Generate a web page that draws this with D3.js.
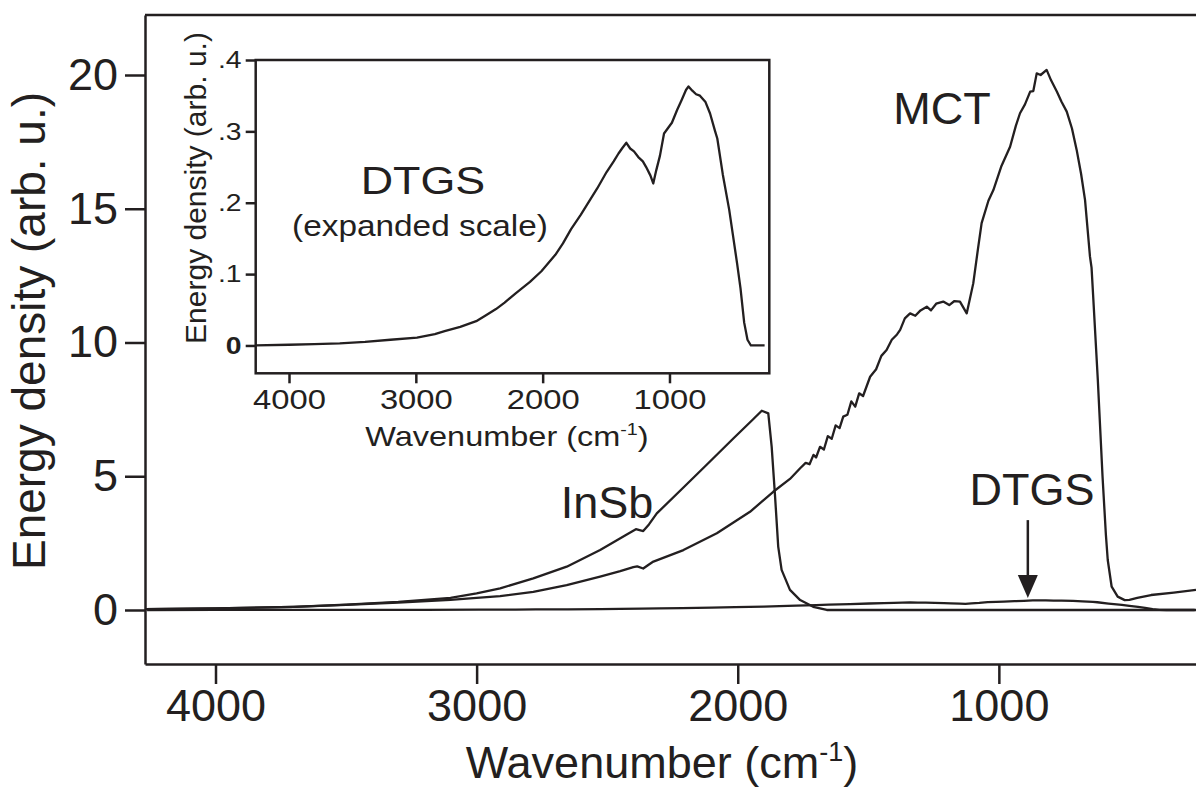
<!DOCTYPE html>
<html>
<head>
<meta charset="utf-8">
<script src="https://cdn.jsdelivr.net/npm/d3@7"></script>
<style>
  html, body { margin: 0; padding: 0; background: #fff; }
  svg { display: block; }
  text { font-family: "Liberation Sans", Arial, Helvetica, sans-serif; fill: #231f20; }
</style>
</head>
<body>
<svg id="chart" width="1196" height="787"></svg>
<script>
// ---------------- data ----------------
const xTicks = [4000, 3000, 2000, 1000];
const yTicks = [0, 5, 10, 15, 20];
const insetYTicks = [0, 0.1, 0.2, 0.3, 0.4];

// wavenumber (cm-1), energy density (arb. u.)
const mctWavenumber = [4270,4000,3700,3500,3300,3100,3000,2910,2783,2655,2527,2450,2400,2385,2362,2340,2323,2208,2080,1953,1864,1800,1761,1740,1725,1710,1700,1685,1670,1655,1640,1625,1610,1596,1580,1565,1550,1535,1520,1493,1470,1450,1430,1410,1390,1378,1360,1340,1320,1300,1276,1260,1240,1213,1190,1170,1149,1123,1098,1080,1066,1040,1021,990,957,935,919,900,880,868,855,840,817,800,778,760,740,720,702,685,670,651,645,638,621,603,590,583,568,545,518,500,470,417,330,245];
const mctValues = [0.03,0.06,0.12,0.19,0.28,0.38,0.45,0.52,0.68,0.93,1.25,1.45,1.6,1.63,1.55,1.7,1.81,2.24,2.87,3.67,4.42,4.9,5.3,5.5,5.45,5.8,5.7,6.1,6.0,6.5,6.4,6.9,6.8,7.23,7.3,7.8,7.6,8.1,8.0,8.72,9.0,9.5,9.72,10.1,10.3,10.47,10.9,11.09,11.0,11.2,11.34,11.2,11.45,11.53,11.4,11.55,11.53,11.09,12.21,13.5,14.46,15.3,15.7,16.6,17.32,18.1,18.57,18.9,19.38,19.4,20.06,20.0,20.19,19.8,19.38,19.0,18.63,18.0,17.2,16.3,15.33,13.21,12.8,11.59,8.6,5.0,2.8,1.87,0.87,0.5,0.37,0.38,0.45,0.56,0.65,0.75];

const insbWavenumber = [4270,4000,3700,3500,3300,3100,3000,2910,2783,2655,2527,2420,2390,2362,2340,2310,2208,2119,2017,1940,1908,1883,1870,1857,1845,1832,1800,1761,1711,1659,1000,245];
const insbValues = [0.03,0.06,0.12,0.2,0.3,0.45,0.62,0.81,1.18,1.62,2.24,2.85,3.02,2.95,3.2,3.61,4.58,5.43,6.41,7.14,7.45,7.35,6.1,4.24,2.37,1.5,0.75,0.37,0.12,0.0,0.0,0.0];

const dtgsWavenumber = [4262,4000,3800,3600,3400,3200,2991,2850,2773,2650,2524,2450,2368,2300,2213,2100,2010,1900,1840,1776,1700,1651,1570,1496,1440,1402,1370,1340,1310,1280,1246,1210,1184,1150,1128,1105,1075,1043,1010,981,940,904,870,850,820,790,760,716,680,640,623,580,529,500,467,440,411,385,358,300,250];
const dtgsValues = [0,0.001,0.002,0.003,0.005,0.008,0.011,0.016,0.02,0.026,0.034,0.042,0.051,0.06,0.073,0.089,0.104,0.127,0.143,0.163,0.183,0.197,0.22,0.243,0.258,0.269,0.277,0.284,0.276,0.272,0.264,0.258,0.25,0.238,0.227,0.245,0.266,0.297,0.305,0.312,0.33,0.344,0.358,0.363,0.357,0.352,0.35,0.341,0.325,0.3,0.29,0.24,0.19,0.155,0.115,0.08,0.032,0.008,0,0,0];

const zip = (xs, ys) => xs.map((v, i) => [v, ys[i]]);
const mct = zip(mctWavenumber, mctValues);
const insb = zip(insbWavenumber, insbValues);
const dtgs = zip(dtgsWavenumber, dtgsValues);

// ---------------- drawing ----------------
const ink = "#231f20";
const lineW = 2.3, frameW = 2.5;
const svg = d3.select("#chart");

// main plot
const M = { left: 145, right: 1196, top: 15, bottom: 664 };
const x = d3.scaleLinear().domain([4270, 245]).range([M.left, M.right]);
const y = d3.scaleLinear().domain([-2.019, 22.243]).range([M.bottom, M.top]);

svg.append("clipPath").attr("id", "mainClip").append("rect")
  .attr("x", M.left).attr("y", M.top).attr("width", M.right - M.left).attr("height", M.bottom - M.top);

const line = d3.line().x(d => x(d[0])).y(d => y(d[1]));
const gData = svg.append("g").attr("clip-path", "url(#mainClip)");
[dtgs, insb, mct].forEach(s => {
  gData.append("path").datum(s).attr("d", line)
    .attr("fill", "none").attr("stroke", ink).attr("stroke-width", lineW).attr("stroke-linejoin", "round");
});

// top frame line
svg.append("line").attr("x1", M.left).attr("x2", M.right).attr("y1", M.top).attr("y2", M.top)
  .attr("stroke", ink).attr("stroke-width", frameW);

const yAxis = svg.append("g").attr("transform", `translate(${M.left},0)`)
  .call(d3.axisLeft(y).tickValues(yTicks).tickSize(20).tickSizeOuter(0).tickPadding(7).tickFormat(d3.format("d")));
const xAxis = svg.append("g").attr("transform", `translate(0,${M.bottom})`)
  .call(d3.axisBottom(x).tickValues(xTicks).tickSize(20).tickSizeOuter(0).tickPadding(5).tickFormat(d3.format("d")));
[yAxis, xAxis].forEach(g => {
  g.select(".domain").attr("stroke", ink).attr("stroke-width", frameW);
  g.selectAll(".tick line").attr("stroke", ink).attr("stroke-width", frameW);
  g.selectAll(".tick text").attr("fill", ink).style("font-size", "45px")
    .style("font-family", '"Liberation Sans", Arial, sans-serif');
});

// axis titles
const xt = svg.append("text").attr("x", 662).attr("y", 778).attr("text-anchor", "middle").style("font-size", "45px");
xt.append("tspan").text("Wavenumber (cm");
xt.append("tspan").attr("dy", -17).style("font-size", "27px").text("-1");
xt.append("tspan").attr("dy", 17).text(")");

svg.append("text").attr("transform", "translate(45,331) rotate(-90)").attr("text-anchor", "middle")
  .style("font-size", "46px").text("Energy density (arb. u.)");

// series labels
svg.append("text").attr("x", 942).attr("y", 124).attr("text-anchor", "middle").style("font-size", "45px").text("MCT");
svg.append("text").attr("x", 607).attr("y", 518).attr("text-anchor", "middle").style("font-size", "45px").text("InSb");
svg.append("text").attr("x", 1032).attr("y", 505).attr("text-anchor", "middle").style("font-size", "45px").text("DTGS");

// arrow pointing at the DTGS trace
const arrowNu = 889, arrowTail = 3.36, arrowTip = 0.45;
const ax = x(arrowNu), ayTail = y(arrowTail), ayTip = y(arrowTip);
svg.append("line").attr("x1", ax).attr("x2", ax).attr("y1", ayTail).attr("y2", ayTip - 20)
  .attr("stroke", ink).attr("stroke-width", frameW);
svg.append("path").attr("d", `M${ax - 10},${ayTip - 23} L${ax + 10},${ayTip - 23} L${ax},${ayTip} Z`).attr("fill", ink);

// ---------------- inset ----------------
const I = { left: 255.7, right: 769.3, top: 60, bottom: 373.3 };
const xi = d3.scaleLinear().domain([4262.6, 213]).range([I.left, I.right]);
const yi = d3.scaleLinear().domain([-0.039, 0.4]).range([I.bottom, I.top]);

const gi = svg.append("g");
gi.append("rect").attr("x", I.left).attr("y", I.top).attr("width", I.right - I.left).attr("height", I.bottom - I.top)
  .attr("fill", "#fff").attr("stroke", ink).attr("stroke-width", frameW);

const lineI = d3.line().x(d => xi(d[0])).y(d => yi(d[1]));
gi.append("path").datum(dtgs).attr("d", lineI).attr("fill", "none").attr("stroke", ink)
  .attr("stroke-width", lineW).attr("stroke-linejoin", "round");

const fmtInset = d => d === 0 ? "0" : d3.format(".1f")(d).replace(/^0/, "");
const yiAxis = gi.append("g").attr("transform", `translate(${I.left},0)`)
  .call(d3.axisLeft(yi).tickValues(insetYTicks).tickSize(10).tickSizeOuter(0).tickPadding(2).tickFormat(fmtInset));
const xiAxis = gi.append("g").attr("transform", `translate(0,${I.bottom})`)
  .call(d3.axisBottom(xi).tickValues(xTicks).tickSize(10).tickSizeOuter(0).tickPadding(6).tickFormat(d3.format("d")));
[yiAxis, xiAxis].forEach(g => {
  g.select(".domain").remove();
  g.selectAll(".tick line").attr("stroke", ink).attr("stroke-width", frameW);
  g.selectAll(".tick text").attr("fill", ink).style("font-family", '"Liberation Sans", Arial, sans-serif');
});
yiAxis.selectAll(".tick text").style("font-size", "24px").attr("transform", "scale(1.18,1)")
  .style("font-weight", d => d === 0 ? "bold" : "normal");
xiAxis.selectAll(".tick text").style("font-size", "28px").attr("transform", "scale(1.17,1)");

const xit = gi.append("text").attr("transform", "translate(507,446) scale(1.16,1)").attr("text-anchor", "middle").style("font-size", "28px");
xit.append("tspan").text("Wavenumber (cm");
xit.append("tspan").attr("dy", -11).style("font-size", "17px").text("-1");
xit.append("tspan").attr("dy", 11).text(")");

gi.append("text").attr("transform", "translate(206,188) rotate(-90)").attr("text-anchor", "middle")
  .style("font-size", "30px").text("Energy density (arb. u.)");

gi.append("text").attr("transform", "translate(423,194) scale(1.15,1)").attr("text-anchor", "middle")
  .style("font-size", "39px").text("DTGS");
gi.append("text").attr("transform", "translate(420,236) scale(1.15,1)").attr("text-anchor", "middle")
  .style("font-size", "29px").text("(expanded scale)");
</script>
</body>
</html>
